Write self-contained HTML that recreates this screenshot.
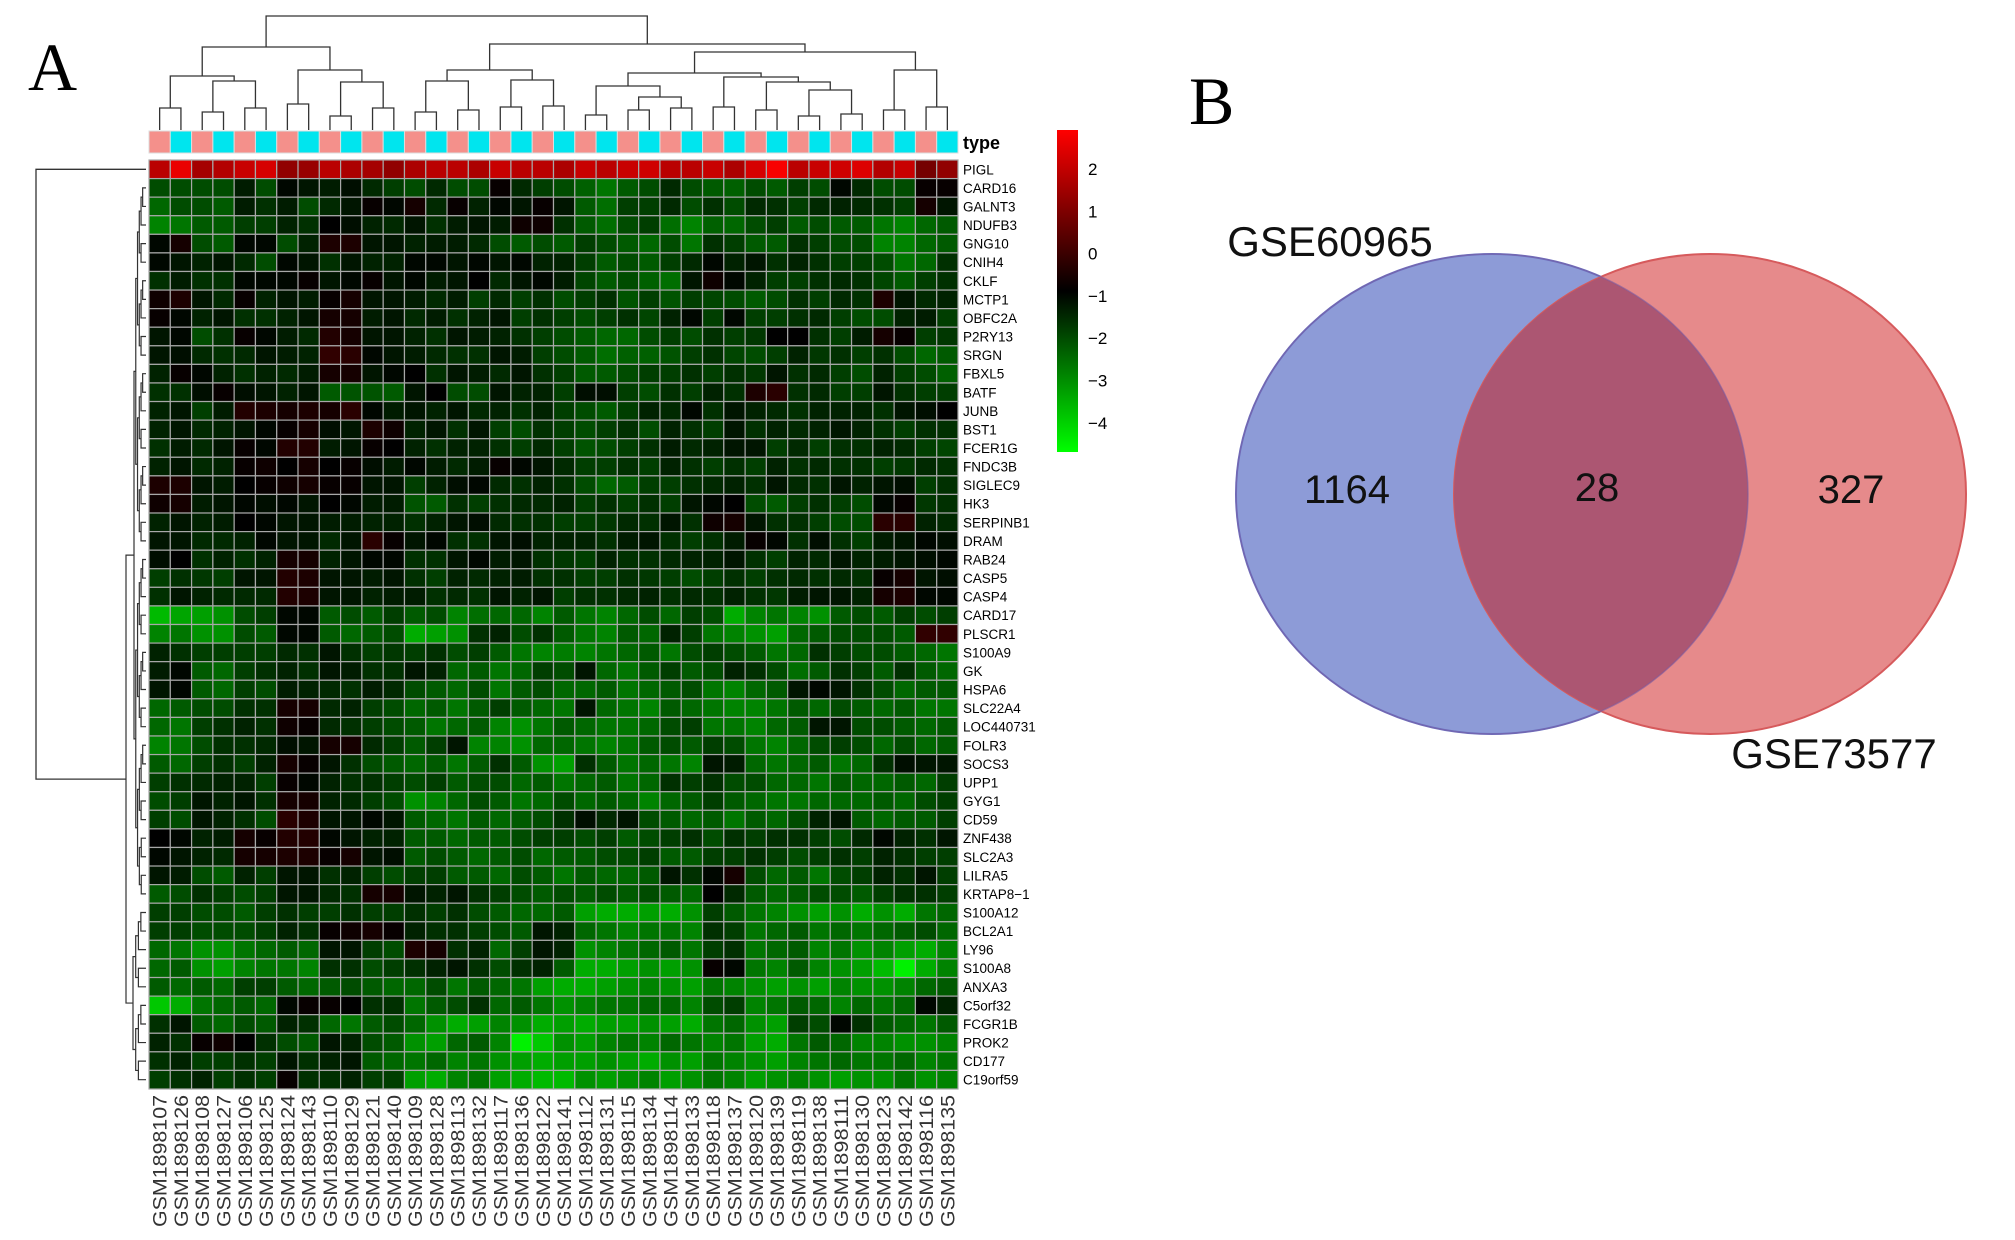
<!DOCTYPE html>
<html><head><meta charset="utf-8">
<style>
html,body{margin:0;padding:0;background:#fff;}
svg{display:block;font-family:"Liberation Sans",sans-serif;}
</style></head>
<body>
<svg id="fig" width="2015" height="1240" viewBox="0 0 2015 1240" xmlns="http://www.w3.org/2000/svg">
<text x="28" y="90" font-family="Liberation Serif, serif" font-size="68">A</text>
<text x="1189" y="124" font-family="Liberation Serif, serif" font-size="68">B</text>
<g id="heat"></g>
<g id="venn"></g>
</svg>
<script>
const genes=["PIGL","CARD16","GALNT3","NDUFB3","GNG10","CNIH4","CKLF","MCTP1","OBFC2A","P2RY13","SRGN","FBXL5","BATF","JUNB","BST1","FCER1G","FNDC3B","SIGLEC9","HK3","SERPINB1","DRAM","RAB24","CASP5","CASP4","CARD17","PLSCR1","S100A9","GK","HSPA6","SLC22A4","LOC440731","FOLR3","SOCS3","UPP1","GYG1","CD59","ZNF438","SLC2A3","LILRA5","KRTAP8\u22121","S100A12","BCL2A1","LY96","S100A8","ANXA3","C5orf32","FCGR1B","PROK2","CD177","C19orf59"];
const samples=["107","126","108","127","106","125","124","143","110","129","121","140","109","128","113","132","117","136","122","141","112","131","115","134","114","133","118","137","120","139","119","138","111","130","123","142","116","135"].map(s=>"GSM1898"+s);
const sampleType=samples.map((s,i)=>i%2);
const colorTicks=[2,1,0,-1,-2,-3,-4];
const vals=[
[1.8,2.5,1.5,1.7,2,2.2,1.2,1.3,1.8,1.6,1.5,1.2,1.6,1.8,1.8,1.6,2,1.8,1.8,1.6,2,1.8,2,2.1,1.8,1.8,2,1.6,2.2,2.7,1.8,2,2.1,2.3,1.7,2,0.8,1.2],
[-2,-2,-2,-2,-1.3,-2,-1,-1.2,-1.3,-1.1,-1.5,-1.8,-2,-1.5,-2,-2,-0.8,-1.5,-1.8,-2,-2.3,-2.6,-2.2,-2,-1.5,-2,-2.2,-2.3,-2,-2.2,-1.8,-2,-1,-1.5,-2,-2,-0.8,-0.8],
[-2.4,-2,-2,-2.2,-1.3,-1.6,-1.3,-2,-1.5,-1.2,-0.8,-1,-0.6,-1.5,-0.8,-1.4,-1,-1.2,-0.8,-1.2,-2.2,-2.5,-1.8,-1.8,-1.5,-2,-1.6,-2,-1.5,-1.6,-1.8,-1.5,-1.4,-1.5,-1.6,-1.8,-0.6,-1.2],
[-2.8,-2.6,-2.2,-2.2,-1.8,-1.8,-1.4,-1.6,-0.9,-1.1,-1.4,-1.5,-1.2,-1.6,-1.3,-1.2,-1.3,-0.7,-0.7,-1.6,-2.2,-2.5,-2,-1.8,-2.5,-2.8,-2.3,-2.4,-2,-1.8,-2.2,-2,-2.2,-2.2,-2.6,-2.8,-2.4,-2.2],
[-1,-0.6,-2,-2.2,-1,-1,-2,-1.4,-0.5,-0.5,-1.2,-1.2,-1.4,-1.3,-1.3,-1.5,-2,-2.2,-2,-2.2,-1.8,-2,-2.2,-2.4,-2,-2.6,-1.6,-1.8,-2.2,-2.2,-1.6,-1.8,-2,-2,-2.8,-2.8,-2.4,-2.2],
[-1,-1.2,-1.4,-1.2,-1.5,-2,-1,-1.2,-1.6,-1.2,-1.4,-1.4,-1,-1,-1.2,-1,-1.2,-1,-1.4,-1.4,-1.8,-2.2,-2,-2.2,-1.8,-1.5,-1,-1.4,-1.2,-1.6,-1.4,-1.6,-1.8,-1.8,-2,-2.6,-2.4,-1.6],
[-1.6,-1.3,-1.6,-1.6,-1,-1,-1,-0.8,-1.2,-1,-0.8,-1.2,-1,-1.3,-1.2,-0.9,-1.5,-1.2,-1,-1.3,-1.9,-2.2,-2,-2.3,-2.5,-1.2,-0.7,-1,-1.4,-1.8,-1.8,-1.6,-1.5,-1.6,-1.9,-2.2,-1.8,-1.6],
[-0.7,-0.5,-1.2,-1.5,-0.8,-1.4,-1.2,-1.3,-0.8,-0.6,-1.2,-1.2,-1.3,-1.5,-1.3,-1.8,-1.5,-1.8,-1.6,-2,-1.8,-1.6,-2.1,-1.8,-2.1,-1.8,-1.9,-2,-2.2,-2,-1.6,-1.8,-1.5,-1.6,-0.5,-1.2,-1.5,-1.4],
[-0.8,-1,-1.4,-1.2,-1.6,-1.6,-1.4,-1.2,-0.6,-0.6,-1.3,-1.2,-1.5,-1.3,-1.6,-1.4,-1.2,-1.8,-1.6,-1.8,-2,-1.8,-1.6,-1.9,-1.4,-1,-1.8,-1,-1.8,-1.8,-1.6,-1.5,-1.8,-2,-2,-1.4,-1.3,-1.8],
[-1.2,-1,-2,-1.6,-0.8,-1,-1.3,-1.5,-0.4,-0.6,-1.2,-1.2,-1.4,-1.6,-1.2,-1.3,-1.4,-1.6,-1.8,-2,-2.2,-2.4,-2.4,-2,-1.8,-2,-1.6,-1.8,-1.7,-0.9,-0.9,-1.6,-1.8,-1.3,-0.6,-0.8,-1.8,-1.7],
[-1.2,-1.1,-1.5,-1.6,-1.5,-1.2,-1.3,-1.4,-0.2,-0.3,-1,-1.2,-1.3,-1.5,-1.6,-1.6,-1.2,-1.3,-1.8,-2,-2.2,-2.5,-2.3,-2.3,-2.1,-1.8,-1.6,-1.9,-2,-1.8,-1.4,-1.7,-1.6,-1.8,-1.6,-2,-2.4,-2.2],
[-1.4,-0.8,-1,-1.4,-1.6,-1.4,-1.5,-1.3,-0.6,-0.6,-1.2,-1,-0.9,-1.6,-1.2,-1.3,-1.5,-1.2,-1.6,-1.8,-2.2,-2.2,-2,-1.8,-1.8,-1.6,-1.8,-1.6,-1.7,-1.2,-1.6,-1.5,-1.8,-2,-1.4,-1.8,-2,-2.3],
[-1.6,-1.6,-1.1,-0.8,-1.1,-1.2,-1.4,-1.2,-2.2,-2.1,-2.1,-2.2,-1.2,-0.9,-2,-2,-1.2,-1.4,-1.4,-1.8,-1.1,-1.1,-1.8,-2,-1.6,-1.8,-1.4,-1.6,-0.5,-0.3,-1.6,-1.5,-1.8,-1.8,-1.2,-1.6,-1.8,-1.8],
[-1.4,-1.2,-1.8,-1.3,-0.4,-0.5,-0.6,-0.5,-0.6,-0.3,-1,-1.3,-1.2,-1.4,-1.2,-1.5,-1.4,-1.6,-1.4,-1.8,-2,-2.2,-1.8,-1.4,-1.5,-1,-1.6,-1.2,-1.4,-1.5,-1.6,-1.4,-1.4,-1.4,-1.6,-1.2,-1.1,-0.9],
[-1.4,-1.2,-1.5,-1.4,-1.2,-1,-0.8,-0.6,-1.1,-1.2,-0.5,-0.7,-1.4,-1.2,-1.6,-1.2,-1.8,-2,-1.6,-1.8,-2,-1.8,-1.6,-2,-1.4,-1.6,-1.8,-1.2,-1.6,-1.4,-1.5,-1.4,-1.2,-1.4,-1.6,-1.8,-1.6,-1.6],
[-1.6,-1.3,-1.5,-1.2,-0.8,-1,-0.4,-0.4,-1.3,-1.2,-0.8,-0.9,-1.4,-1.6,-1.4,-1.4,-1.6,-1.8,-1.5,-1.8,-2.1,-2,-1.8,-1.6,-1.3,-1.5,-1.4,-1.2,-1.2,-1.8,-1.5,-1.8,-1.6,-1.6,-1.4,-1.5,-1.8,-1.9],
[-1.4,-1.2,-1.5,-1.4,-0.8,-0.7,-0.9,-0.6,-0.9,-0.8,-1.1,-1.3,-1,-1.3,-1.5,-1.3,-0.8,-1,-1.2,-1.5,-1.8,-1.8,-1.6,-1.8,-1.4,-1.6,-1.8,-1.6,-1.8,-1.4,-1.6,-1.5,-1.6,-1.6,-1.8,-1.7,-1.5,-1.6],
[-0.5,-0.5,-1.2,-1.3,-0.9,-0.8,-0.7,-0.6,-0.8,-0.8,-1.2,-1.2,-1.8,-1.4,-1.1,-1,-1.5,-1.6,-1.4,-1.6,-2,-2.4,-2.2,-1.8,-1.8,-1.6,-1.5,-1.4,-1.6,-1.2,-1.5,-1.6,-1.2,-1.4,-1.2,-1.1,-1.8,-1.6],
[-0.7,-0.6,-1.3,-1.2,-1,-1.1,-1,-1.2,-0.9,-1,-1.3,-1.3,-2.1,-2.2,-1.6,-1.8,-1.6,-1.5,-1.5,-1.4,-1.8,-1.6,-1.8,-1.6,-1.8,-1.2,-1,-0.9,-2,-2.2,-1.8,-1.6,-1.8,-2,-1,-0.8,-1.7,-1.6],
[-1.4,-1.2,-1.4,-1.3,-0.9,-1,-1.2,-1.2,-1.3,-1.3,-1.4,-1.4,-1.6,-1.4,-1.2,-1.1,-1.5,-1.6,-1.6,-1.8,-1.8,-1.7,-1.5,-1.6,-1.2,-1.6,-0.7,-0.6,-1.2,-1.6,-1.6,-1.8,-2,-2,-0.3,-0.3,-1.4,-1.5],
[-1.2,-1.2,-1.5,-1.5,-1.4,-1,-1.2,-1.2,-1.5,-1.2,-0.3,-0.8,-1.2,-1,-1.6,-1.6,-1.2,-1.1,-1.4,-1.4,-1.4,-1.6,-1.3,-1.2,-1.6,-1.8,-1.6,-1.3,-0.8,-1,-1.6,-1.1,-1.6,-1.8,-1.3,-1.2,-1,-1.1],
[-1.1,-0.9,-1.6,-1.4,-1.6,-1.4,-0.6,-0.6,-1.4,-1.2,-1,-1,-1.6,-1.6,-1.2,-1,-1.3,-1.2,-1.6,-1.7,-1.8,-1.4,-1.6,-1.6,-1.5,-1.4,-1.4,-1.2,-1.6,-1.8,-1.4,-1.5,-1.2,-1.4,-1.3,-1.2,-1.1,-1],
[-1.8,-1.6,-1.7,-1.8,-1.2,-1.2,-0.4,-0.5,-1.2,-1.2,-1.3,-1.2,-1.6,-1.8,-1.4,-1.5,-1.4,-1.3,-1.6,-1.6,-1.8,-1.8,-1.6,-1.7,-1.8,-2,-1.8,-1.6,-1.8,-1.6,-1.5,-1.6,-1.5,-1.6,-0.8,-0.6,-1.2,-1.1],
[-1.6,-1.2,-1.4,-1.5,-1.5,-1.5,-0.4,-0.5,-1.2,-1.2,-1.4,-1.3,-1.3,-1.6,-1.5,-1.6,-1.2,-1.4,-1.2,-1.8,-1.6,-1.6,-1.5,-1.4,-1.6,-1.5,-1.6,-1.4,-1.6,-1.7,-1.3,-1.2,-1.2,-1.4,-0.6,-0.5,-1,-1],
[-3.6,-3.3,-3.2,-3,-2,-1.8,-1,-1,-2.2,-2,-2.2,-1.8,-2.2,-2,-2.8,-2.5,-2.4,-2.4,-2.8,-2.2,-2.6,-2.8,-2.4,-2,-2.4,-1.8,-2,-3.4,-2.8,-2.6,-2.8,-3,-2.2,-2,-2.2,-1.8,-2,-1.8],
[-2.8,-2.6,-3,-3,-2,-2.2,-1,-1,-2.2,-2.4,-2.2,-2,-3.4,-3.2,-3,-1.6,-1.4,-2,-1.6,-2.2,-2.6,-2.8,-2.2,-2.4,-1.4,-1.8,-2.6,-2.8,-3,-3.2,-2.4,-2.2,-2,-2,-2,-2.2,-0.2,-0.2],
[-1.4,-1.6,-1.8,-1.8,-1.8,-1.8,-1.5,-1.6,-1.2,-1.6,-1.8,-1.7,-1.8,-1.6,-2,-1.8,-2.2,-2.6,-2.8,-2.7,-2.8,-2.6,-2.4,-2.2,-2.6,-2,-1.8,-2,-2.2,-2.6,-2.4,-1.6,-1.8,-2,-2,-2.2,-2.4,-2.6],
[-1.3,-1,-2.2,-2.4,-1.8,-1.6,-1.4,-1.6,-1.2,-1.3,-1.6,-1.6,-1.2,-1.4,-2.4,-2.2,-2.6,-2.4,-1.8,-2,-1.2,-2.4,-2.6,-2.2,-1.8,-2.2,-2,-1.4,-1.6,-2,-2.5,-2.2,-1.6,-1.8,-2.2,-1.6,-2.2,-2.4],
[-1.2,-1,-2.2,-2.4,-1.8,-2,-1.3,-1.4,-1.5,-1.6,-1.3,-1.5,-2,-2.2,-2.4,-2,-2.6,-2.2,-2,-2.4,-2.4,-2.2,-2.6,-2.4,-2.2,-2,-2.6,-2.8,-2.4,-2.2,-1.2,-1,-1.2,-1.6,-2,-2.4,-2.2,-2.2],
[-2.4,-2.2,-2,-2,-1.6,-1.6,-0.6,-0.6,-1.5,-1.4,-1.8,-2,-2.4,-2.2,-2.6,-2.2,-1.8,-2.2,-2.4,-2.6,-1.2,-2.4,-2.6,-2.8,-2.2,-2.4,-2.6,-2.8,-2.8,-2.6,-2.2,-2.4,-2,-2.2,-2.4,-2.2,-2.6,-2.6],
[-2.4,-2.6,-1.8,-1.6,-1.4,-1.6,-0.7,-0.8,-1.5,-1.6,-1.8,-2,-2.2,-2.6,-2.4,-2.2,-2.8,-3,-2.6,-2.2,-2.4,-2.6,-2.6,-2.4,-2,-1.8,-2.6,-2.6,-2.8,-2.4,-2.2,-1.2,-1.2,-2,-2,-2.2,-2.4,-2.2],
[-2.8,-2.6,-2,-1.6,-1.6,-1.5,-1.1,-1.2,-0.6,-0.6,-1.5,-1.8,-2.2,-1.8,-1.2,-2.8,-2.8,-3,-2.4,-2.4,-2.6,-2.8,-2.6,-2.2,-2,-2.2,-1.8,-2,-2.6,-2.8,-2.4,-2,-1.8,-2,-2.4,-2,-2.4,-2.2],
[-2.2,-2.4,-1.8,-1.6,-1.8,-1.4,-0.6,-0.8,-1.2,-1.6,-2,-2.2,-2.4,-2.2,-2.6,-2.2,-1.6,-2.2,-3,-3.2,-1.6,-2.2,-2.6,-2.4,-2.6,-2.8,-1.2,-1.3,-2.4,-2.6,-2.4,-2.2,-2.6,-2.4,-1.6,-1.1,-1.2,-1.2],
[-1.8,-1.6,-1.5,-1.4,-1.4,-1.8,-0.8,-1,-1.4,-1.6,-1.6,-1.8,-2,-1.8,-2.2,-2,-2,-2.4,-2.2,-2.6,-2.4,-2.2,-2.6,-2.4,-1.6,-1.8,-1.6,-2,-2,-2.4,-2.4,-2.6,-2.2,-2.4,-2.4,-2.2,-2.4,-1.8],
[-2,-1.8,-1.2,-1.4,-1.2,-1.6,-0.6,-0.6,-1.4,-1.5,-1.8,-2,-3,-2.8,-2.4,-2,-2.2,-2.6,-2.4,-2,-2.4,-2.2,-2.4,-2.8,-2.4,-2.2,-1.8,-2.2,-2.4,-2.6,-2.6,-2.4,-2.4,-2.4,-2.2,-2.4,-2,-1.8],
[-1.8,-2,-1.2,-1.4,-1.6,-2,-0.3,-0.5,-1.2,-1.2,-1,-1.2,-2.2,-2.4,-2.6,-2.2,-2.4,-2.2,-2,-1.6,-1.1,-1.5,-1.2,-2,-2.2,-2.4,-2.2,-2.6,-2.2,-2.4,-2,-1.4,-1.2,-2.2,-2.4,-2.2,-2.2,-1.8],
[-0.9,-1,-1.4,-1.3,-0.6,-0.8,-0.4,-0.4,-1,-1.2,-1.4,-1.4,-2.2,-2.2,-2.4,-2.2,-2.2,-2,-1.8,-1.8,-2,-1.8,-2.2,-2,-1.8,-1.6,-2,-1.6,-1.8,-1.6,-1.6,-1.8,-2,-1.5,-1,-1.4,-1.6,-1.2],
[-1,-1.2,-1.4,-1.5,-0.6,-0.6,-0.5,-0.5,-0.8,-0.6,-1.2,-1.1,-2.2,-2,-2.2,-2.4,-2.2,-2,-2.4,-2.2,-2.2,-2,-2,-1.8,-2.2,-2.2,-1.8,-1.8,-1.6,-1.8,-2,-1.8,-1.6,-1.8,-1.4,-1.6,-1.8,-1.8],
[-1.2,-1.3,-2,-2.2,-1.4,-1.8,-1.2,-1.2,-1.6,-1.4,-1.8,-2,-1.8,-1.8,-2.2,-2.2,-2.4,-2,-2.2,-2.6,-2.2,-2.4,-2.4,-2.2,-1.2,-1.6,-1,-0.6,-2,-2.4,-2.2,-2.6,-2,-1.8,-1.4,-1.6,-1.2,-1.8],
[-2.2,-2,-1.6,-1.8,-2,-1.8,-1.2,-1.2,-1.5,-1.6,-0.6,-0.6,-1.2,-1.4,-1.2,-1.6,-1.8,-2,-2.2,-2,-2.2,-2,-2.2,-2,-2.2,-2.4,-0.9,-1.5,-2.2,-2.4,-2.2,-2,-2,-2.2,-1.8,-1.6,-1.6,-1.8],
[-1.8,-1.8,-2,-2,-2.2,-1.8,-1.6,-1.8,-1.8,-1.6,-1.8,-1.8,-1.6,-1.8,-1.6,-2,-2.2,-2.4,-2.4,-2.2,-3.2,-3.4,-3.4,-3.2,-3.4,-3,-1.8,-2.2,-2.6,-2.8,-3,-3.2,-3,-3.4,-3,-3.4,-2.6,-2.4],
[-1.8,-1.8,-2,-2,-2,-1.8,-1.4,-1.6,-0.8,-0.7,-0.6,-0.8,-1.4,-1.6,-1.6,-1.8,-2,-2.2,-1.2,-1.4,-2.4,-2.6,-2.8,-2.6,-2.6,-2.8,-1.6,-1.8,-2.6,-2.4,-2.2,-2.6,-2.4,-2.6,-2.4,-2.2,-2,-2.4],
[-2.4,-2.6,-3,-3,-2.6,-2.4,-2.2,-2.4,-1.2,-1.2,-1.8,-2,-0.5,-0.6,-1.6,-1.4,-2.4,-1.8,-1.2,-1.4,-3,-2.8,-2.6,-2.4,-2.2,-2.6,-1.8,-1.6,-2.6,-2.4,-2.2,-2.8,-2.6,-3,-2.8,-3.2,-3.4,-2.8],
[-2.4,-2.2,-3,-3.2,-2.8,-2.6,-2.6,-2.8,-1.6,-1.6,-2,-1.8,-1.6,-1.4,-1.2,-1.6,-2,-1.6,-1.4,-2.2,-3.4,-3.4,-3.2,-3,-3.2,-3,-0.8,-1,-2.6,-2.8,-2.2,-2.8,-3,-3.2,-3.6,-4.4,-3.4,-2.8],
[-2.2,-2.4,-2.2,-2.4,-1.8,-1.8,-2.2,-2.4,-2.2,-2,-2.2,-2.4,-2.4,-2,-2.6,-2.2,-2.4,-2.6,-3.2,-3.4,-3.4,-3.2,-3,-2.8,-3,-3.2,-2.6,-2.8,-3,-3.2,-3,-3.2,-2.8,-3,-3,-2.8,-2.4,-2.2],
[-3.8,-3.4,-2.6,-2.4,-2.2,-2.4,-1,-0.8,-0.8,-0.9,-1.6,-1.6,-2.6,-2.2,-2,-1.6,-2.4,-2.2,-2.6,-3,-2.8,-2.6,-2.6,-2.4,-2.4,-2.8,-2,-1.8,-2.8,-2.6,-2.2,-2.4,-2.8,-2.4,-2.6,-2.4,-1,-1.4],
[-1.6,-1.2,-2.2,-2.4,-2,-2.2,-1.4,-1.6,-2.4,-2.6,-2.2,-2,-2.4,-3,-3.4,-3.2,-2.8,-3,-3.4,-3.2,-3.4,-3.2,-3.2,-3,-3.2,-3.4,-2.6,-2.4,-3,-3.2,-1.8,-2,-1,-1.6,-2.2,-2.4,-2.6,-2.2],
[-1.4,-1.6,-0.8,-0.7,-0.9,-1.6,-2,-2.2,-1.2,-1.4,-2,-2.2,-3,-3.2,-2.4,-2.2,-2.8,-4.4,-3.8,-3,-3.2,-2.8,-2.6,-2.8,-2.4,-2.6,-2.8,-2.6,-3.2,-3.4,-2.6,-2.2,-2.4,-2.8,-2.8,-3,-3,-2.8],
[-1.6,-1.4,-1.8,-1.8,-1.6,-1.8,-1.2,-1.6,-1.4,-1.2,-2.2,-2.4,-2.6,-2.4,-2.8,-2.6,-3,-3.2,-3.4,-3.2,-3.2,-3,-3.2,-3.4,-3,-3.2,-2.6,-2.8,-3,-3.2,-2.8,-2.6,-2.4,-2.6,-2.6,-2.4,-2.8,-2.6],
[-1.8,-1.6,-1.4,-1.8,-1.6,-1.8,-0.8,-1.6,-1.6,-1.4,-1.8,-1.8,-3.2,-3.4,-2.8,-2.6,-3.2,-3.4,-3.6,-3.6,-3,-3.2,-3,-2.8,-3.2,-3,-2.6,-2.8,-3.2,-3,-2.8,-3,-3.2,-3,-3,-2.6,-3,-2.8]
];
// column dendrogram: [left, right, mergeY]
const colTree=[[[[0,1,108],[[2,3,112],[4,5,108],81],76],[[6,7,104],[[8,9,116],[10,11,108],82],70],47],
 [[[[12,13,112],[14,15,110],81],[[16,17,107],[18,19,106],80],70],
  [[[[20,21,115],[[22,23,110],[24,25,108],97],86],[[26,27,107],[[28,29,110],[[30,31,116],[32,33,114],90],82],77],73],
   [[34,35,110],[36,37,107],70],52],44],16];
const vennSets=["GSE60965","GSE73577"];
const vennCounts=[1164,28,327];

const NS="http://www.w3.org/2000/svg";
function mk(tag,attrs,parent){const e=document.createElementNS(NS,tag);for(const k in attrs)e.setAttribute(k,attrs[k]);parent.appendChild(e);return e;}
const heat=document.getElementById('heat');
const X0=149,X1=958,Y0=160,Y1=1089;
const cw=(X1-X0)/samples.length, rh=(Y1-Y0)/genes.length;
const xc=i=>X0+i*cw, yr=j=>Y0+j*rh;
const VMIN=-4.6,VMID=-0.9,VMAX=2.8;
function col(v){
  if(v>=VMID){const t=Math.min(1,(v-VMID)/(VMAX-VMID));return `rgb(${Math.round(255*t)},0,0)`;}
  const t=Math.min(1,(VMID-v)/(VMID-VMIN));return `rgb(0,${Math.round(255*t)},0)`;
}
const valueToY=v=>169+(2-v)*42.3;
const LX=X1+5;
// type bar
sampleType.forEach((t,i)=>{
  const r=mk('rect',{x:xc(i),y:131,width:cw,height:22,fill:t?'#00e5ee':'#f4908b',stroke:'#ddd','stroke-width':1},heat);
  
  
});
const tl=mk('text',{x:LX,y:149,'font-size':18,'font-weight':'bold'},heat);tl.textContent='type';


// cells
vals.forEach((row,j)=>{row.slice(0,samples.length).forEach((v,i)=>{
  const r=mk('rect',{x:xc(i),y:yr(j),width:cw,height:rh,fill:col(v),stroke:'#a8a8a8','stroke-width':1.2},heat);
  
  
});});
// row labels
genes.forEach((g,j)=>{
  const t=mk('text',{x:LX,y:yr(j)+rh/2+5,'font-size':13.5},heat);t.textContent=g;
  
  
});
// column labels
samples.forEach((s,i)=>{
  const cx=xc(i)+cw/2+7, y=Y1+6;
  const t=mk('text',{x:cx,y:y,'font-size':19,'text-anchor':'end',transform:`rotate(-90 ${cx} ${y})`,fill:'#333',textLength:132,lengthAdjust:'spacingAndGlyphs'},heat);
  t.textContent=s;
  
  
});
// color legend
const gd=mk('defs',{},heat);
const lg=mk('linearGradient',{id:'cg',x1:0,y1:1,x2:0,y2:0},gd);
for(let k=0;k<=20;k++){const v=VMIN+(VMAX-VMIN)*k/20;mk('stop',{offset:k/20,'stop-color':col(v)},lg);}
const cb=mk('rect',{x:1057,y:130,width:21,height:322,fill:'url(#cg)'},heat);


colorTicks.forEach(v=>{
  const t=mk('text',{x:1088,y:valueToY(v)+6,'font-size':17},heat);t.textContent=v<0?'\u2212'+(-v):String(v);
  
  
});
// column dendrogram
const BASE=130;
function drawCol(n){
  if(typeof n==='number')return {x:xc(n)+cw/2,y:BASE};
  const a=drawCol(n[0]),b=drawCol(n[1]),y=n[2];
  const p=mk('path',{d:`M${a.x},${a.y}V${y}H${b.x}V${b.y}`,fill:'none',stroke:'#333','stroke-width':1.3},heat);
  
  
  return {x:(a.x+b.x)/2,y:y};
}
drawCol(colTree);
// row dendrogram
function rowNode(lo,hi,x0){
  if(lo===hi)return {y:yr(lo)+rh/2,x:146};
  const mid=Math.floor((lo+hi)/2);
  const step=(146-x0)/(Math.log2(hi-lo+1)+1.5);
  const a=rowNode(lo,mid,x0+step),b=rowNode(mid+1,hi,x0+step);
  const p=mk('path',{d:`M${a.x},${a.y}H${x0}V${b.y}H${b.x}`,fill:'none',stroke:'#333','stroke-width':1.2},heat);
  
  
  return {y:(a.y+b.y)/2,x:x0};
}
const up=rowNode(1,39,134), lo=rowNode(40,49,133);
const rp=mk('path',{d:`M${up.x},${up.y}H126V${lo.y}H${lo.x}`,fill:'none',stroke:'#333','stroke-width':1.2},heat);


const restY=(up.y+lo.y)/2;
const root=mk('path',{d:`M146,${yr(0)+rh/2}H36V${restY}H126`,fill:'none',stroke:'#333','stroke-width':1.3},heat);



// Venn
const venn=document.getElementById('venn');
const BCX=1492,RCX=1710,CY=494,RX=256,RY=240;
const vd=mk('defs',{},venn);
const cp=mk('clipPath',{id:'blueclip'},vd);
mk('ellipse',{cx:BCX,cy:CY,rx:RX,ry:RY},cp);
const b=mk('ellipse',{cx:BCX,cy:CY,rx:RX,ry:RY,fill:'#8d9bd7',stroke:'#6a78c8','stroke-width':2},venn);


const r=mk('ellipse',{cx:RCX,cy:CY,rx:RX,ry:RY,fill:'#e68a8b',stroke:'#d65a5c','stroke-width':2},venn);


const ov=mk('ellipse',{cx:RCX,cy:CY,rx:RX,ry:RY,fill:'#ac5672','clip-path':'url(#blueclip)'},venn);


mk('ellipse',{cx:BCX,cy:CY,rx:RX,ry:RY,fill:'none',stroke:'#7a5aa0','stroke-width':1.5,'stroke-opacity':0.6},venn);
const cpos=[[1347,503],[1597,501],[1851,503]];
vennCounts.forEach((c,k)=>{
  const t=mk('text',{x:cpos[k][0],y:cpos[k][1],'font-size':40,'text-anchor':'middle',fill:'#111'},venn);t.textContent=c;
  
  
});
const lpos=[[1330,256],[1834,768]];
vennSets.forEach((s,k)=>{
  const t=mk('text',{x:lpos[k][0],y:lpos[k][1],'font-size':42,'text-anchor':'middle',fill:'#111'},venn);t.textContent=s;
  
  
});
</script>
</body></html>
